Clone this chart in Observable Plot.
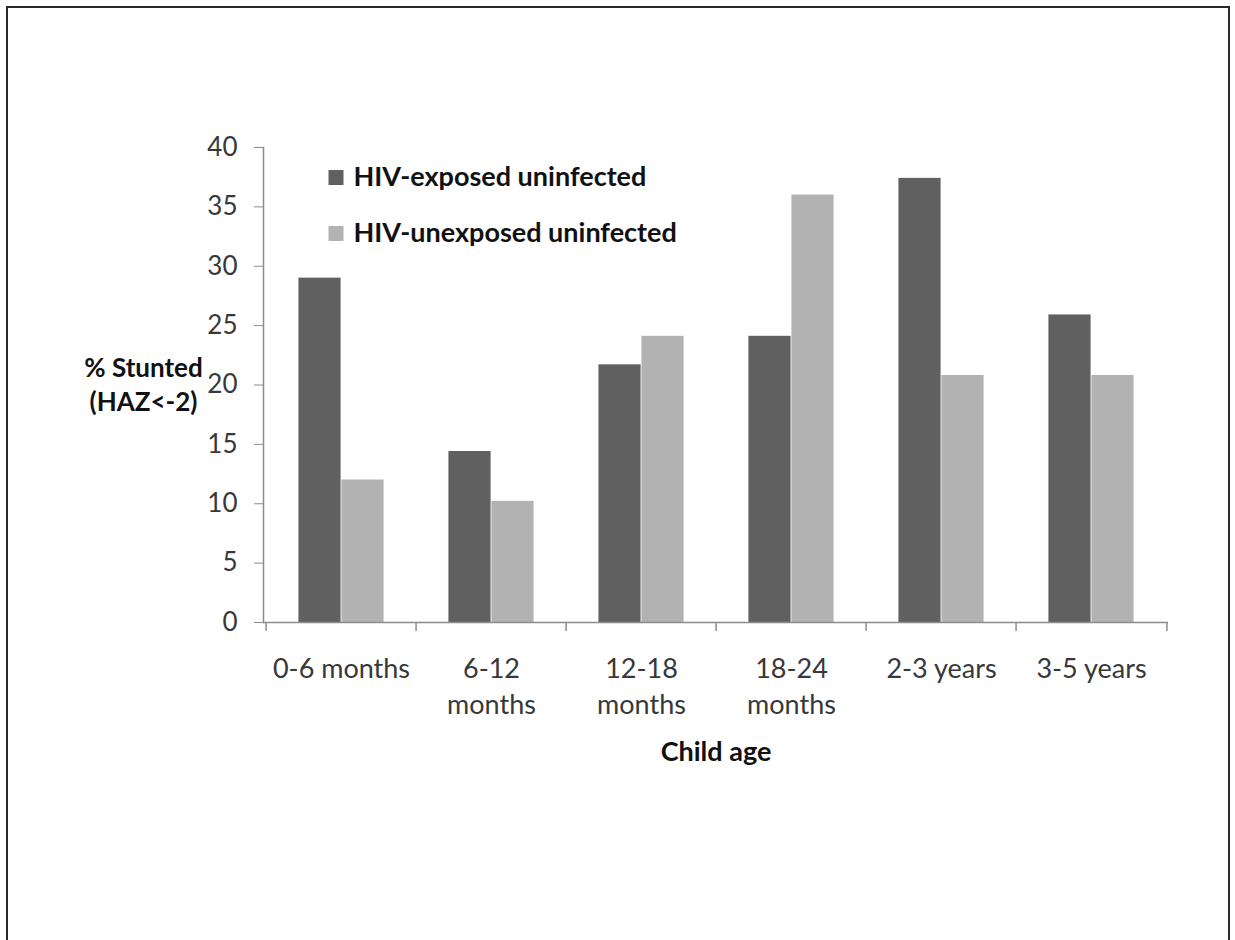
<!DOCTYPE html>
<html>
<head>
<meta charset="utf-8">
<script src="https://cdn.jsdelivr.net/npm/d3@7"></script>
<script src="https://cdn.jsdelivr.net/npm/@observablehq/plot@0.6"></script>
<style>
  html, body { margin: 0; padding: 0; background: #fff; }
  #wrap { position: relative; width: 1235px; height: 940px; overflow: hidden; }
  #border { position: absolute; left: 6px; top: 6px; width: 1224px; height: 960px;
            border: 2px solid #2a2a2a; box-sizing: border-box; }
  #chart { position: absolute; left: 0; top: 0; }
</style>
</head>
<body>
<div id="wrap"><div id="border"></div><div id="chart"></div></div>
<script>
const categories = ["0-6 months", "6-12 months", "12-18 months", "18-24 months", "2-3 years", "3-5 years"];
const tickLabels = ["0-6 months", "6-12\nmonths", "12-18\nmonths", "18-24\nmonths", "2-3 years", "3-5 years"];
const seriesNames = ["HIV-exposed uninfected", "HIV-unexposed uninfected"];
const exposed = [29.0, 14.4, 21.7, 24.1, 37.4, 25.9];
const unexposed = [12.0, 10.2, 24.1, 36.0, 20.8, 20.8];
const seriesColors = ["#606060", "#b2b2b2"];
const yTicks = [0, 5, 10, 15, 20, 25, 30, 35, 40];

const width = 1235, height = 940;
const mL = 263, mR = 67, mT = 147, mB = 318;
const bw = (width - mL - mR) / categories.length;
const barW = 43;
const pad = (bw - 2 * barW) / 2;

const rows = (vals) => categories.map((c, i) => ({category: c, value: vals[i]}));
const font = "Lato, 'Open Sans', sans-serif";

const legendMarks = seriesNames.flatMap((name, i) => [
  Plot.dot([0], {frameAnchor: "top-left", dx: 72.5, dy: 30 + i * 56, symbol: "square", r: 8.46, fill: seriesColors[i], stroke: "none"}),
  Plot.text([name], {frameAnchor: "top-left", dx: 90, dy: 30 + i * 56, text: d => d, textAnchor: "start", lineAnchor: "middle", fontWeight: "bold", fontSize: 27, fill: "#111"})
]);

const chart = Plot.plot({
  width, height,
  marginLeft: mL, marginRight: mR, marginTop: mT, marginBottom: mB,
  style: {fontFamily: font, fontSize: "26px", background: "transparent"},
  x: {domain: categories, padding: 0, label: null},
  y: {domain: [0, 40], label: null},
  marks: [
    Plot.barY(rows(exposed), {x: "category", y: "value", fill: seriesColors[0], insetLeft: pad, insetRight: bw - pad - barW}),
    Plot.barY(rows(unexposed), {x: "category", y: "value", fill: seriesColors[1], insetLeft: pad + barW, insetRight: pad}),
    Plot.ruleY([0], {stroke: "#8c8c8c", strokeWidth: 1.5}),
    Plot.ruleX(categories, {x: d => d, dx: -bw / 2, stroke: "#8c8c8c", strokeWidth: 1.5, insetTop: height - mT - mB, insetBottom: -9}),
    Plot.ruleX(categories.slice(-1), {x: d => d, dx: bw / 2, stroke: "#8c8c8c", strokeWidth: 1.5, insetTop: height - mT - mB, insetBottom: -9}),
    Plot.frame({anchor: "left", stroke: "#8c8c8c", strokeWidth: 1.5}),
    Plot.axisY(yTicks, {tickSize: 9, tickPadding: 17, stroke: "#8c8c8c", color: "#383838", fontSize: 26, label: null}),
    Plot.axisX({tickSize: 0, tickPadding: 30, color: "#383838", fontSize: 27, lineHeight: 1.33, label: null,
      tickFormat: d => tickLabels[categories.indexOf(d)]}),
    Plot.text(["% Stunted\n(HAZ<-2)"], {frameAnchor: "left", dx: -120, dy: -2, text: d => d, textAnchor: "middle", lineAnchor: "middle", lineHeight: 1.33, fontWeight: "bold", fontSize: 26, fill: "#111"}),
    Plot.text(["Child age"], {frameAnchor: "bottom", dy: 130, text: d => d, textAnchor: "middle", lineAnchor: "middle", fontWeight: "bold", fontSize: 27, fill: "#111"}),
    ...legendMarks
  ]
});
document.getElementById("chart").appendChild(chart);
</script>
</body>
</html>
